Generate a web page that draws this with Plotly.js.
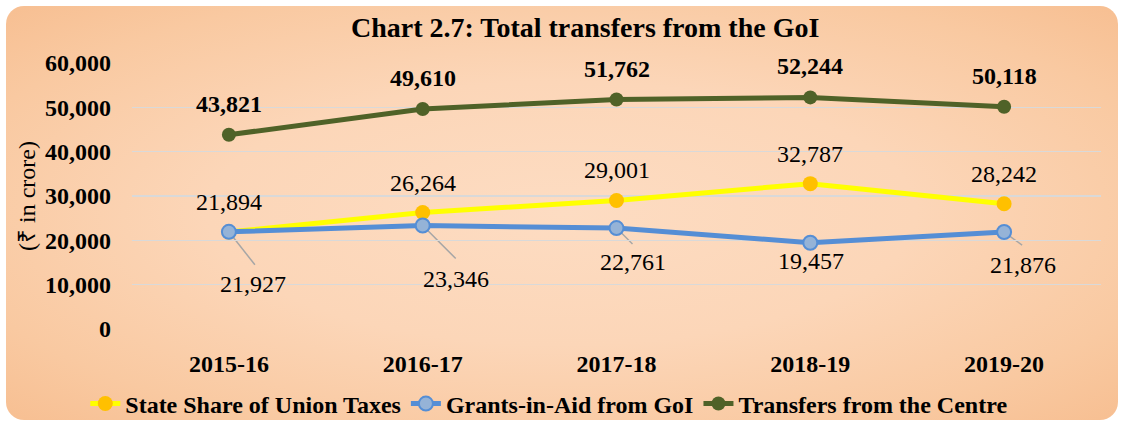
<!DOCTYPE html>
<html>
<head>
<meta charset="utf-8">
<script src="https://cdn.plot.ly/plotly-3.0.1.min.js"></script>
<style>
  html, body { margin: 0; padding: 0; background: #ffffff; width: 1121px; height: 423px; overflow: hidden; }
  #bg { position: absolute; left: 6px; top: 6px; width: 1112px; height: 414px; border-radius: 18px;
        background: radial-gradient(ellipse at 50% 50%, #FDDCC2 0%, #FCD6B8 45%, #F9C9A1 80%, #F7BF92 100%); }
  #chart { position: absolute; left: 0; top: 0; width: 1121px; height: 423px; }
</style>
</head>
<body>
<div id="bg"></div>
<div id="chart"></div>
<script>
const years = ["2015-16", "2016-17", "2017-18", "2018-19", "2019-20"];
const stateShare = [21894, 26264, 29001, 32787, 28242];
const grantsInAid = [21927, 23346, 22761, 19457, 21876];
const transfers = [43821, 49610, 51762, 52244, 50118];
const seriesNames = ["State Share of Union Taxes", "Grants-in-Aid from GoI", "Transfers from the Centre"];

const FONT = "Liberation Serif";
const fmt = v => v.toLocaleString('en-US');

const traces = [
  {
    type: 'scatter', mode: 'lines+markers', name: seriesNames[0],
    x: years, y: stateShare,
    line: {color: '#FFFF00', width: 5},
    marker: {color: '#FFC000', size: 15, line: {width: 0}}
  },
  {
    type: 'scatter', mode: 'lines+markers', name: seriesNames[1],
    x: years, y: grantsInAid,
    line: {color: '#558ED5', width: 5},
    marker: {color: '#95B3D7', size: 14, line: {color: '#558ED5', width: 2}}
  },
  {
    type: 'scatter', mode: 'lines+markers', name: seriesNames[2],
    x: years, y: transfers,
    line: {color: '#4F6228', width: 5},
    marker: {color: '#4F6228', size: 14}
  }
];

const annotations = [];
const shapes = [];
transfers.forEach((v, i) => {
  annotations.push({x: years[i], y: v, xref: 'x', yref: 'y', text: '<b>' + fmt(v) + '</b>',
    showarrow: false, yshift: 31, font: {family: FONT, size: 24, color: '#000'}});
});
stateShare.forEach((v, i) => {
  annotations.push({x: years[i], y: v, xref: 'x', yref: 'y', text: fmt(v),
    showarrow: false, yshift: 30, font: {family: FONT, size: 24, color: '#000'}});
});
// label offsets [xshift, yshift] and leader line end [dx, dy] in pixels
const gLabel = [[24, -52], [33, -53], [16, -34], [1, -18], [19, -33]];
const gLeader = [[26, -33], [33, -33], [16, -16], null, [18, -13]];
grantsInAid.forEach((v, i) => {
  annotations.push({x: years[i], y: v, xref: 'x', yref: 'y', text: fmt(v),
    showarrow: false, xshift: gLabel[i][0], yshift: gLabel[i][1],
    font: {family: FONT, size: 24, color: '#000'}});
  const l = gLeader[i];
  if (l) {
    shapes.push({type: 'line', xref: 'x', yref: 'y', xsizemode: 'pixel', ysizemode: 'pixel',
      xanchor: i, yanchor: v, x0: 0, y0: 0, x1: l[0], y1: l[1], layer: 'below',
      line: {color: '#A6A6A6', width: 1.5}});
  }
});

const layout = {
  width: 1121, height: 423,
  paper_bgcolor: 'rgba(0,0,0,0)', plot_bgcolor: 'rgba(0,0,0,0)',
  margin: {l: 132, r: 20, t: 63, b: 94},
  font: {family: FONT, color: '#000'},
  title: {text: '<b>Chart 2.7: Total transfers from the GoI</b>', x: 0.522, xref: 'container',
          y: 0.936, yref: 'container', yanchor: 'middle', xanchor: 'center',
          font: {family: FONT, size: 28, color: '#000'}},
  xaxis: {type: 'category', range: [-0.5, 4.5], showgrid: false, zeroline: false, showline: false,
          automargin: false, ticks: '', ticklabelstandoff: 18,
          tickfont: {family: FONT, size: 24, color: '#000', weight: 'bold'}},
  yaxis: {range: [0, 60000], dtick: 10000, tickformat: ',', showgrid: true, gridcolor: '#D9D9D9',
          gridwidth: 1.5, zeroline: false, showline: false, ticks: '', ticklabelstandoff: 20,
          automargin: false,
          tickfont: {family: FONT, size: 24, color: '#000', weight: 'bold'},
          title: {text: '(₹ in crore)', standoff: 2, font: {family: FONT, size: 24, color: '#000'}}},
  showlegend: true,
  legend: {orientation: 'h', x: 0.49, xanchor: 'center', xref: 'container', y: 0.045, yanchor: 'middle',
           yref: 'container',
           bgcolor: 'rgba(0,0,0,0)', font: {family: FONT, size: 24, color: '#000', weight: 'bold'},
           itemwidth: 30, tracegroupgap: 0},
  annotations: annotations,
  shapes: shapes
};

Plotly.newPlot('chart', traces, layout, {displayModeBar: false, staticPlot: true});
</script>
</body>
</html>
